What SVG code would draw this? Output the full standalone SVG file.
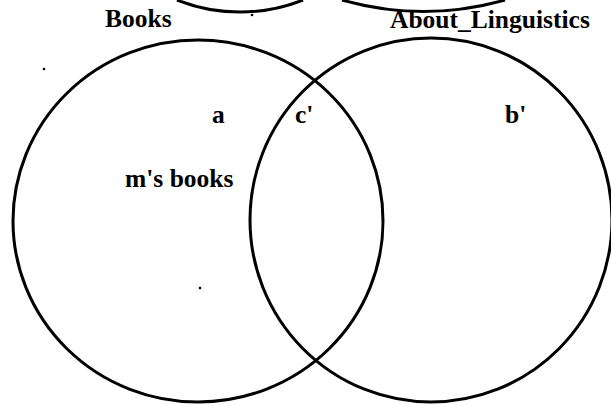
<svg xmlns="http://www.w3.org/2000/svg" width="611" height="404" viewBox="0 0 611 404">
<style>
.ln{fill:none;stroke:#000;stroke-width:3}
.t{font-family:'Liberation Serif','DejaVu Serif','Times New Roman',serif;font-weight:700;font-size:25.5px;fill:#000}
.dot{fill:#000}
</style>
<rect width="611" height="404" fill="#fff"/>
<g id="top-arcs">
<path class="ln" d="M177 0 A171 171 0 0 0 303 0"/>
<path class="ln" d="M342 0 A300 300 0 0 0 505 0"/>
</g>
<g id="books">
<ellipse class="ln" cx="198" cy="221" rx="185" ry="181"/>
<text class="t" font-family="Liberation Serif, serif" x="105" y="27">Books</text>
</g>
<g id="about-linguistics">
<ellipse class="ln" cx="431" cy="220" rx="181" ry="182"/>
<text class="t" font-family="Liberation Serif, serif" x="390" y="28">About_Linguistics</text>
</g>
<g id="labels">
<text class="t" font-family="Liberation Serif, serif" x="212" y="123">a</text>
<text class="t" font-family="Liberation Serif, serif" x="295" y="123">c'</text>
<text class="t" font-family="Liberation Serif, serif" x="505" y="123">b'</text>
<text class="t" font-family="Liberation Serif, serif" x="125" y="187">m's books</text>
</g>
<g id="connectors"></g>
<g id="specks">
<circle class="dot" cx="44" cy="69" r="1.3"/>
<circle class="dot" cx="200" cy="288" r="1.3"/>
<circle class="dot" cx="252" cy="15" r="1.3"/>
</g>
</svg>
